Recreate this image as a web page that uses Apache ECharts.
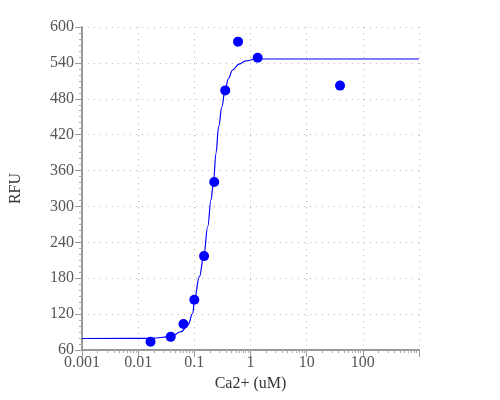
<!DOCTYPE html>
<html>
<head>
<meta charset="utf-8">
<script src="https://cdn.jsdelivr.net/npm/echarts@6/dist/echarts.min.js"></script>
<style>html,body{margin:0;padding:0;background:#fff;}#chart{width:500px;height:400px;}</style>
</head>
<body>
<div id="chart"></div>
<script>
// Measured points
var concentrations = [0.0166, 0.038, 0.064, 0.1, 0.149, 0.226, 0.355, 0.6, 1.34, 39.3];
var rfu = [74, 82, 103.5, 144, 217, 341, 494, 575.5, 548.7, 502];

// Fitted curve
var curveX = [0.001, 0.0173, 0.0378, 0.0584, 0.0768, 0.0941, 0.1004, 0.1231, 0.1472, 0.1732, 0.198, 0.2193, 0.2427, 0.271, 0.31, 0.35, 0.407, 0.479, 0.626, 0.823, 1.236, 1000];
var curveY = [79.2, 79.6, 82.2, 90.6, 101.8, 121.4, 144.8, 182.6, 217.2, 266.2, 310.8, 341.4, 388.9, 433.3, 466.8, 493.5, 514.3, 528.1, 538.1, 543.2, 546.5, 546.5];

var yTicks = [60, 600, 60]; // min, max, interval
var xRange = [0.001, 1000];

var chart = echarts.init(document.getElementById('chart'), null, {renderer: 'canvas'});
var font = '"Liberation Serif", "DejaVu Serif", serif';
var axisGray = '#999999';
var gridStyle = {show: true, lineStyle: {color: '#b8b8b8', width: 1, type: [1, 5]}};

var pts = concentrations.map(function (c, i) { return [c, rfu[i]]; });
var curve = curveX.map(function (c, i) { return [c, curveY[i]]; });

chart.setOption({
  animation: false,
  backgroundColor: '#fff',
  grid: {left: 80, right: 81, top: 27, bottom: 50},
  xAxis: {
    type: 'log',
    logBase: 10,
    min: xRange[0],
    max: xRange[1],
    name: 'Ca2+ (uM)',
    nameLocation: 'middle',
    nameGap: 26,
    nameTextStyle: {fontFamily: font, fontSize: 16, color: '#333'},
    axisLine: {show: true, onZero: false, lineStyle: {color: axisGray, width: 2}},
    axisTick: {show: true, length: 7, lineStyle: {color: axisGray, width: 1}},
    minorTick: {show: true, splitNumber: 10, length: 3, lineStyle: {color: '#aaaaaa', width: 1}},
    axisLabel: {
      fontFamily: font, fontSize: 16, color: '#555', margin: 5, showMaxLabel: false,
      formatter: function (v) { if (v >= 999) return ''; return String(parseFloat(Number(v).toPrecision(3))); }
    },
    splitLine: gridStyle
  },
  yAxis: {
    type: 'value',
    min: yTicks[0],
    max: yTicks[1],
    interval: yTicks[2],
    name: 'RFU',
    nameLocation: 'middle',
    nameGap: 58,
    nameTextStyle: {fontFamily: font, fontSize: 16, color: '#333'},
    axisLine: {show: true, lineStyle: {color: axisGray, width: 2}},
    axisTick: {show: true, length: 7, lineStyle: {color: axisGray, width: 1}},
    minorTick: {show: true, splitNumber: 6, length: 3, lineStyle: {color: '#aaaaaa', width: 1}},
    axisLabel: {fontFamily: font, fontSize: 16, color: '#555', margin: 8},
    splitLine: gridStyle
  },
  series: [
    {
      type: 'line',
      data: curve,
      showSymbol: false,
      smooth: 0.4,
      smoothMonotone: 'x',
      lineStyle: {color: '#0000ff', width: 1.2, opacity: 1},
      z: 2
    },
    {
      type: 'scatter',
      data: pts,
      symbol: 'circle',
      symbolSize: 10,
      itemStyle: {color: '#0000ff', opacity: 1},
      z: 3
    }
  ]
});
</script>
</body>
</html>
